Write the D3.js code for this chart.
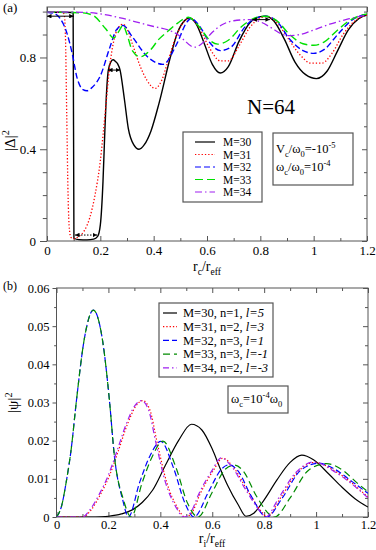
<!DOCTYPE html>
<html>
<head>
<meta charset="utf-8">
<script src="https://cdn.jsdelivr.net/npm/d3@7"></script>
<style>
  body { margin: 0; background: #fff; }
  svg { display: block; }
</style>
</head>
<body>
<svg width="376" height="550"></svg>
<script>
// ---- data: [r, value] ----
var deltaM30 = [[0,0.997],[0.05,0.997],[0.098,0.996],[0.101,0.012],[0.12,0.006],[0.15,0.005],[0.175,0.008],[0.19,0.02],[0.2,0.07],[0.21,0.26],[0.216,0.45],[0.222,0.62],[0.23,0.745],[0.24,0.782],[0.248,0.79],[0.257,0.782],[0.265,0.772],[0.274,0.745],[0.29,0.62],[0.305,0.49],[0.325,0.42],[0.345,0.40],[0.365,0.42],[0.39,0.48],[0.42,0.6],[0.46,0.79],[0.49,0.91],[0.52,0.965],[0.535,0.972],[0.56,0.945],[0.59,0.86],[0.62,0.77],[0.65,0.732],[0.68,0.76],[0.72,0.87],[0.76,0.95],[0.8,0.978],[0.82,0.98],[0.85,0.96],[0.89,0.88],[0.93,0.78],[0.97,0.725],[1.01,0.708],[1.05,0.74],[1.09,0.83],[1.13,0.92],[1.17,0.97],[1.2,0.985]];
var deltaM31 = [[0,0.997],[0.05,0.997],[0.064,0.99],[0.069,0.9],[0.074,0.55],[0.079,0.2],[0.084,0.05],[0.09,0.015],[0.1,0.01],[0.12,0.02],[0.14,0.045],[0.16,0.1],[0.18,0.2],[0.2,0.35],[0.21,0.46],[0.22,0.58],[0.235,0.76],[0.25,0.87],[0.265,0.925],[0.285,0.945],[0.3,0.925],[0.32,0.86],[0.35,0.76],[0.375,0.7],[0.405,0.665],[0.43,0.7],[0.45,0.77],[0.48,0.88],[0.51,0.95],[0.535,0.972],[0.57,0.93],[0.61,0.84],[0.65,0.785],[0.68,0.785],[0.72,0.85],[0.76,0.93],[0.8,0.972],[0.82,0.978],[0.86,0.955],[0.9,0.89],[0.95,0.81],[0.99,0.775],[1.03,0.775],[1.07,0.82],[1.11,0.9],[1.15,0.955],[1.2,0.985]];
var deltaM32 = [[0,0.997],[0.03,0.99],[0.049,0.97],[0.075,0.905],[0.094,0.82],[0.113,0.71],[0.135,0.66],[0.15,0.655],[0.17,0.67],[0.2,0.72],[0.236,0.845],[0.26,0.92],[0.285,0.94],[0.32,0.89],[0.375,0.805],[0.435,0.77],[0.487,0.86],[0.525,0.955],[0.54,0.97],[0.57,0.94],[0.61,0.865],[0.65,0.83],[0.69,0.845],[0.74,0.93],[0.78,0.97],[0.82,0.98],[0.86,0.96],[0.91,0.88],[0.96,0.83],[1.0,0.818],[1.04,0.835],[1.09,0.9],[1.14,0.96],[1.2,0.99]];
var deltaM33 = [[0,0.997],[0.125,0.995],[0.17,0.985],[0.22,0.925],[0.25,0.885],[0.27,0.915],[0.285,0.94],[0.3,0.9],[0.32,0.83],[0.35,0.803],[0.386,0.83],[0.42,0.88],[0.454,0.915],[0.49,0.95],[0.53,0.975],[0.57,0.935],[0.61,0.875],[0.64,0.858],[0.68,0.875],[0.73,0.935],[0.78,0.972],[0.82,0.98],[0.86,0.962],[0.91,0.9],[0.96,0.86],[1.0,0.853],[1.04,0.868],[1.09,0.92],[1.14,0.965],[1.2,0.99]];
var deltaM34 = [[0,0.998],[0.135,0.997],[0.2,0.99],[0.285,0.97],[0.35,0.95],[0.4,0.935],[0.454,0.92],[0.49,0.9],[0.515,0.875],[0.54,0.85],[0.555,0.845],[0.58,0.86],[0.62,0.91],[0.66,0.945],[0.7,0.96],[0.76,0.965],[0.8,0.955],[0.84,0.93],[0.875,0.905],[0.9,0.895],[0.95,0.9],[1.0,0.92],[1.06,0.945],[1.13,0.968],[1.2,0.985]];

var psiM30 = [[0,0],[0.15,0],[0.2,0.0002],[0.25,0.0008],[0.29,0.0018],[0.33,0.0038],[0.37,0.007],[0.42,0.0136],[0.47,0.02],[0.52,0.0243],[0.56,0.0228],[0.6,0.0178],[0.63,0.0128],[0.66,0.0082],[0.7,0.0032],[0.73,0.0002],[0.76,0.001],[0.8,0.0045],[0.85,0.0098],[0.9,0.0143],[0.945,0.0162],[0.99,0.015],[1.05,0.0112],[1.1,0.0078],[1.15,0.0048],[1.2,0.0026]];
var psiM31 = [[0,0],[0.1,0],[0.135,0.002],[0.17,0.006],[0.205,0.011],[0.235,0.0167],[0.275,0.0246],[0.305,0.029],[0.332,0.0305],[0.36,0.028],[0.388,0.0194],[0.425,0.009],[0.465,0.0026],[0.495,0],[0.52,0.001],[0.555,0.0063],[0.605,0.0123],[0.64,0.0154],[0.682,0.013],[0.735,0.007],[0.795,0.001],[0.81,0],[0.865,0.0052],[0.925,0.0115],[0.995,0.0143],[1.085,0.0115],[1.2,0.0052]];
var psiM32 = [[0,0],[0.02,0.003],[0.037,0.009],[0.057,0.018],[0.076,0.03],[0.108,0.047],[0.142,0.0542],[0.178,0.046],[0.204,0.0305],[0.223,0.016],[0.255,0.0045],[0.277,0],[0.32,0.009],[0.36,0.016],[0.402,0.0198],[0.45,0.013],[0.495,0.0036],[0.53,0],[0.585,0.0065],[0.635,0.0125],[0.665,0.0137],[0.7,0.012],[0.75,0.0055],[0.81,0],[0.87,0.005],[0.94,0.0122],[1.01,0.0141],[1.07,0.0126],[1.14,0.0092],[1.2,0.0062]];
var psiM33 = [[0,0],[0.02,0.003],[0.037,0.009],[0.057,0.018],[0.076,0.03],[0.108,0.047],[0.142,0.0542],[0.178,0.046],[0.204,0.0305],[0.223,0.016],[0.258,0.0045],[0.288,0],[0.33,0.009],[0.37,0.016],[0.41,0.0199],[0.46,0.013],[0.505,0.0036],[0.545,0],[0.6,0.0065],[0.65,0.0125],[0.685,0.0136],[0.72,0.012],[0.77,0.0055],[0.84,0],[0.9,0.005],[0.97,0.0122],[1.04,0.014],[1.1,0.0124],[1.16,0.0088],[1.2,0.0066]];
var psiM34 = [[0,0],[0.1,0],[0.13,0.002],[0.165,0.006],[0.2,0.011],[0.23,0.0167],[0.27,0.0246],[0.3,0.029],[0.327,0.0305],[0.355,0.028],[0.383,0.0194],[0.42,0.009],[0.46,0.0026],[0.49,0],[0.515,0.001],[0.55,0.0063],[0.6,0.0123],[0.635,0.0155],[0.677,0.013],[0.73,0.007],[0.79,0.001],[0.805,0],[0.858,0.0052],[0.92,0.0115],[0.99,0.0144],[1.08,0.0115],[1.2,0.005]];

// double arrows in panel (a): [r from, r to, |Delta|^2]
var arrowSpans = [[0, 0.1, 0.98], [0.229, 0.274, 0.745], [0.105, 0.188, 0.026], [0.77, 0.836, 0.965]];

// ticks and legend texts
var xTicks = [0, 0.2, 0.4, 0.6, 0.8, 1, 1.2];
var xTickLabels = ["0", "0.2", "0.4", "0.6", "0.8", "1", "1.2"];
var xMinor = [0.1, 0.3, 0.5, 0.7, 0.9, 1.1];
var yTicksA = [0, 0.4, 0.8];
var yTickLabelsA = ["0", "0.4", "0.8"];
var yMinorA = [0.1, 0.2, 0.3, 0.5, 0.6, 0.7, 0.9, 1.0];
var yTicksB = [0, 0.01, 0.02, 0.03, 0.04, 0.05, 0.06];
var yTickLabelsB = ["0", "0.01", "0.02", "0.03", "0.04", "0.05", "0.06"];
var yMinorB = [0.005, 0.015, 0.025, 0.035, 0.045, 0.055];
var legendA = ["M=30", "M=31", "M=32", "M=33", "M=34"];
var legendBm = ["M=30, n=1, ", "M=31, n=2, ", "M=32, n=3, ", "M=33, n=3, ", "M=34, n=2, "];
var legendBl = ["l=5", "l=3", "l=1", "l=-1", "l=-3"];

// ---- styles ----
var stylesA = [
  {color: "#000000", dash: null, w: 1.4},
  {color: "#ff0000", dash: "1.3,2", w: 1.3},
  {color: "#0000ff", dash: "6,3", w: 1.4},
  {color: "#00e000", dash: "8,4", w: 1.4},
  {color: "#a020f0", dash: "7,3,1.5,3", w: 1.3}
];
var stylesB = [
  {color: "#000000", dash: null, w: 1.2},
  {color: "#ff0000", dash: "1.3,2", w: 1.2},
  {color: "#0000ff", dash: "6,3", w: 1.2},
  {color: "#008a00", dash: "7,4", w: 1.2},
  {color: "#a020f0", dash: "6,3,1.5,3", w: 1.2}
];
var frameColor = "#555";
var serif = "'Liberation Serif', 'Times New Roman', 'DejaVu Serif', serif";

var svg = d3.select("svg").style("font-family", serif);

var xA = d3.scaleLinear().domain([0, 1.2]).range([47, 367]);
var yA = d3.scaleLinear().domain([0, 1.02]).range([241, 7]);
var xB = d3.scaleLinear().domain([0, 1.2]).range([56.5, 368]);
var yB = d3.scaleLinear().domain([0, 0.06]).range([517, 288]);

svg.append("defs").append("marker")
    .attr("id", "head")
    .attr("viewBox", "0 0 6 6")
    .attr("refX", 6).attr("refY", 3)
    .attr("markerWidth", 4.5).attr("markerHeight", 4.5)
    .attr("markerUnits", "userSpaceOnUse")
    .attr("orient", "auto-start-reverse")
  .append("path")
    .attr("d", "M0,0L6,3L0,6z")
    .attr("fill", "#000");

// rich text with sub/superscripts
function rich(sel, parts, size) {
    var shift = 0;
    sel.style("font-family", serif);
    parts.forEach(function(p) {
        var target = p.sub ? size * 0.32 : (p.sup ? -size * 0.42 : 0);
        var small = p.sub || p.sup;
        sel.append("tspan")
            .attr("dy", (target - shift).toFixed(2))
            .style("font-size", (small ? size * 0.68 : size) + "px")
            .style("font-style", p.it ? "italic" : null)
            .text(p.t);
        shift = target;
    });
}

function panel(x, y, yTicks, yLabels, yMinor, ySize, yPad, xPad, fs, clipId) {
    var x0 = x.range()[0], x1 = x.range()[1], y0 = y.range()[0], y1 = y.range()[1];
    var g = svg.append("g");

    svg.append("clipPath").attr("id", clipId)
      .append("rect")
        .attr("x", x0).attr("y", y1).attr("width", x1 - x0).attr("height", y0 - y1);

    function axis(a, tr) {
        var ax = g.append("g").attr("transform", tr).call(a)
            .attr("font-family", null).attr("font-size", null);
        ax.select(".domain").remove();
        ax.selectAll("line").attr("stroke", frameColor);
        ax.selectAll("text").attr("fill", "#000")
            .style("font-family", serif).style("font-size", fs + "px");
        return ax;
    }
    axis(d3.axisBottom(x).tickValues(xTicks).tickSize(-5).tickPadding(xPad)
        .tickFormat(function(d, i) { return xTickLabels[i]; }), "translate(0," + y0 + ")");
    axis(d3.axisBottom(x).tickValues(xMinor).tickSize(-3).tickFormat(""), "translate(0," + y0 + ")");
    axis(d3.axisTop(x).tickValues(xTicks).tickSize(-5).tickFormat(""), "translate(0," + y1 + ")");
    axis(d3.axisTop(x).tickValues(xMinor).tickSize(-3).tickFormat(""), "translate(0," + y1 + ")");
    axis(d3.axisLeft(y).tickValues(yTicks).tickSize(ySize).tickPadding(yPad)
        .tickFormat(function(d, i) { return yLabels[i]; }), "translate(" + x0 + ",0)");
    axis(d3.axisLeft(y).tickValues(yMinor).tickSize(ySize * 0.6).tickFormat(""), "translate(" + x0 + ",0)");
    axis(d3.axisRight(y).tickValues(yTicks).tickSize(-5).tickFormat(""), "translate(" + x1 + ",0)");
    axis(d3.axisRight(y).tickValues(yMinor).tickSize(-3).tickFormat(""), "translate(" + x1 + ",0)");

    g.append("rect")
        .attr("x", x0).attr("y", y1)
        .attr("width", x1 - x0).attr("height", y0 - y1)
        .attr("fill", "none")
        .attr("stroke", frameColor)
        .attr("stroke-width", 1);
    return g;
}

function curves(series, styles, x, y, clipId) {
    var line = d3.line()
        .x(function(d) { return x(d[0]); })
        .y(function(d) { return y(d[1]); })
        .curve(d3.curveMonotoneX);
    var cg = svg.append("g").attr("clip-path", "url(#" + clipId + ")");
    series.forEach(function(s, i) {
        cg.append("path")
            .attr("d", line(s))
            .attr("fill", "none")
            .attr("stroke", styles[i].color)
            .attr("stroke-width", styles[i].w)
            .attr("stroke-dasharray", styles[i].dash);
    });
}

function box(x, y, w, h) {
    svg.append("rect")
        .attr("x", x).attr("y", y).attr("width", w).attr("height", h)
        .attr("fill", "#fff")
        .attr("stroke", frameColor)
        .attr("stroke-width", 1.2);
}

function label(x, y, size, t) {
    return svg.append("text").attr("x", x).attr("y", y)
        .style("font-family", serif).style("font-size", size + "px").text(t);
}

// ---------- panel (a) ----------
panel(xA, yA, yTicksA, yTickLabelsA, yMinorA, 7, 4, 5, 13, "clipA");
curves([deltaM30, deltaM31, deltaM32, deltaM33, deltaM34], stylesA, xA, yA, "clipA");

arrowSpans.forEach(function(a, i) {
    svg.append("line")
        .attr("x1", xA(a[0])).attr("x2", xA(a[1]))
        .attr("y1", yA(a[2])).attr("y2", yA(a[2]))
        .attr("stroke", "#000")
        .attr("stroke-width", 1)
        .attr("stroke-dasharray", i == 2 ? "1.5,1.5" : null)
        .attr("marker-start", "url(#head)")
        .attr("marker-end", "url(#head)");
});

label(3, 12, 13, "(a)");
label(247, 114, 21, "N=64");

rich(svg.append("text").attr("transform", "translate(15,151) rotate(-90)"),
    [{t: "|\u0394|"}, {t: "2", sup: true}], 15);
rich(svg.append("text").attr("x", 207).attr("y", 271).attr("text-anchor", "middle"),
    [{t: "r"}, {t: "c", sub: true}, {t: "/r"}, {t: "eff", sub: true}], 14);

box(183, 132, 79, 70);
legendA.forEach(function(t, i) {
    var yy = 142 + i * 12.5;
    svg.append("line")
        .attr("x1", 195).attr("x2", 215).attr("y1", yy).attr("y2", yy)
        .attr("stroke", stylesA[i].color)
        .attr("stroke-width", 1.2)
        .attr("stroke-dasharray", stylesA[i].dash);
    label(223, yy + 4, 11.5, t);
});

box(273, 133, 80, 52);
rich(svg.append("text").attr("x", 276).attr("y", 153),
    [{t: "V"}, {t: "c", sub: true}, {t: "/\u03c9"}, {t: "0", sub: true}, {t: "=-10"}, {t: "-5", sup: true}], 12.5);
rich(svg.append("text").attr("x", 276).attr("y", 171),
    [{t: "\u03c9"}, {t: "c", sub: true}, {t: "/\u03c9"}, {t: "0", sub: true}, {t: "=10"}, {t: "-4", sup: true}], 12.5);

// ---------- panel (b) ----------
panel(xB, yB, yTicksB, yTickLabelsB, yMinorB, 4, 3, 3, 12.5, "clipB");
curves([psiM30, psiM31, psiM32, psiM33, psiM34], stylesB, xB, yB, "clipB");

label(3, 290, 12, "(b)");
rich(svg.append("text").attr("transform", "translate(18,413) rotate(-90)"),
    [{t: "|\u03c8|"}, {t: "2", sup: true}], 15);
rich(svg.append("text").attr("x", 212).attr("y", 543).attr("text-anchor", "middle"),
    [{t: "r"}, {t: "i", sub: true}, {t: "/r"}, {t: "eff", sub: true}], 14);

box(159, 303, 114, 74);
legendBm.forEach(function(t, i) {
    var yy = 313 + i * 13.7;
    svg.append("line")
        .attr("x1", 163).attr("x2", 177).attr("y1", yy).attr("y2", yy)
        .attr("stroke", stylesB[i].color)
        .attr("stroke-width", 1.2)
        .attr("stroke-dasharray", stylesB[i].dash);
    var tx = label(183, yy + 4.3, 12.5, null);
    tx.append("tspan").text(t);
    tx.append("tspan").style("font-style", "italic").text(legendBl[i]);
});

box(228, 386, 60, 27);
rich(svg.append("text").attr("x", 231).attr("y", 403),
    [{t: "\u03c9"}, {t: "c", sub: true}, {t: "=10"}, {t: "-4", sup: true}, {t: "\u03c9"}, {t: "0", sub: true}], 12.5);
</script>
</body>
</html>
